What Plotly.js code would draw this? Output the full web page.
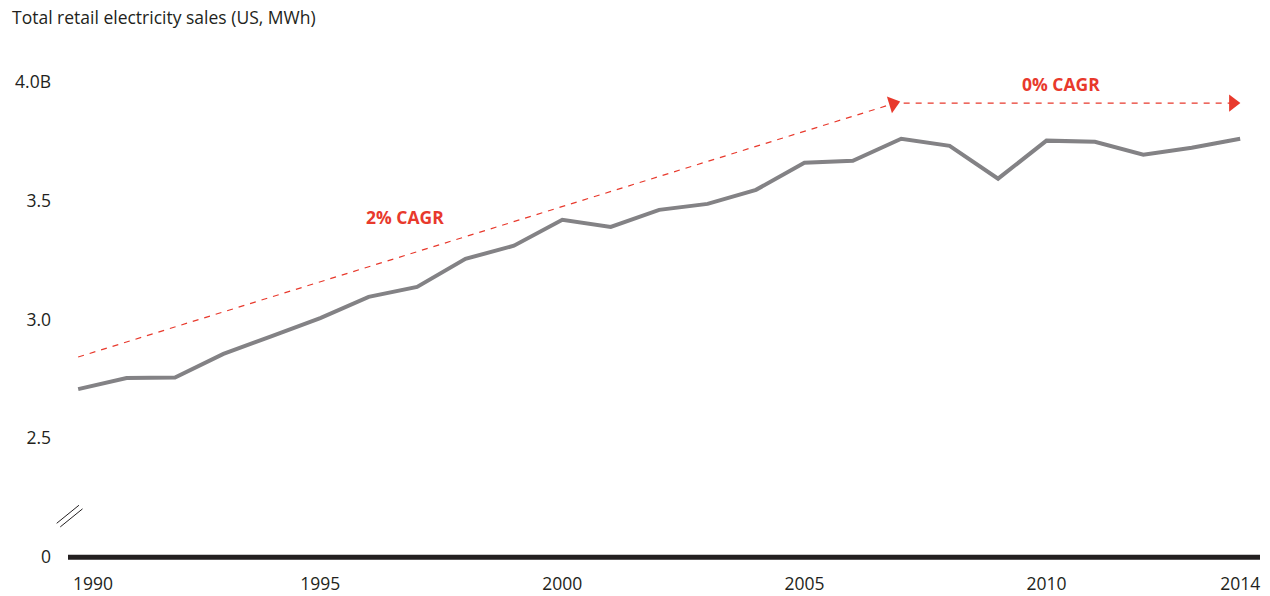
<!DOCTYPE html>
<html>
<head>
<meta charset="utf-8">
<script src="https://cdn.plot.ly/plotly-3.0.1.min.js"></script>
<style>html,body{margin:0;padding:0;background:#fff;}#chart{width:1270px;height:596px;}</style>
</head>
<body>
<div id="chart"></div>
<script>
// Data (billion MWh)
const years = [1990,1991,1992,1993,1994,1995,1996,1997,1998,1999,2000,2001,2002,2003,2004,2005,2006,2007,2008,2009,2010,2011,2012,2013,2014];
const sales = [2.707,2.754,2.756,2.855,2.930,3.006,3.095,3.137,3.255,3.310,3.419,3.389,3.461,3.486,3.545,3.659,3.667,3.760,3.730,3.592,3.752,3.747,3.693,3.722,3.760];
const trendX = [1990, 2006.83];
const trendY = [2.842, 3.907];
const flatX = [2007.05, 2013.85];
const flatY = [3.91, 3.91];
const xTicks = [1990,1995,2000,2005,2010,2014];
const xTickText = ['','1995','2000','2005','2010','2014'];
const yTickVals = [2.0,2.5,3.0,3.5,4.0];
const yTickText = ['0','2.5','3.0','3.5','4.0B'];

const red = '#e8392c';
const ink = '#231f20';
const font = '"Open Sans", Lato, sans-serif';

const traces = [
  {x: trendX, y: trendY, mode:'lines', line:{color:red, width:1.2, dash:'6px,6px'}, hoverinfo:'skip'},
  {x: flatX, y: flatY, mode:'lines', line:{color:red, width:1.2, dash:'6px,6px'}, hoverinfo:'skip'},
  {x: [trendX[1]], y:[trendY[1]], mode:'markers', marker:{symbol:'triangle-right', size:15, color:red, angle:-17}, hoverinfo:'skip'},
  {x: [flatX[1]], y:[flatY[1]], mode:'markers', marker:{symbol:'triangle-right', size:15, color:red}, hoverinfo:'skip'},
  {x: years, y: sales, mode:'lines', line:{color:'#838285', width:4}, hoverinfo:'skip'}
];

const layout = {
  width:1270, height:596,
  margin:{l:68, r:10, t:46, b:34},
  paper_bgcolor:'#fff', plot_bgcolor:'#fff',
  showlegend:false,
  font:{family:font, color:ink, size:17.5},
  xaxis:{range:[1989.79, 2014.41], tickvals:xTicks, ticktext:xTickText, showgrid:false, zeroline:false, showline:false,
         ticks:'outside', ticklen:6, tickcolor:'rgba(0,0,0,0)', tickfont:{size:17.5, color:ink}},
  yaxis:{range:[1.98, 4.15], tickvals:yTickVals, ticktext:yTickText, showgrid:false, zeroline:false, showline:false,
         ticks:'', ticklabelstandoff:16, tickfont:{size:17.5, color:ink}},
  shapes:[
    {type:'line', xref:'paper', yref:'y', x0:0, x1:1, y0:2.0, y1:2.0, line:{color:ink, width:5}},
    {type:'line', xref:'paper', yref:'paper', x0:-0.0095, x1:0.0092, y0:0.075, y1:0.11, line:{color:ink, width:1}},
    {type:'line', xref:'paper', yref:'paper', x0:-0.0065, x1:0.0122, y0:0.068, y1:0.103, line:{color:ink, width:1}}
  ],
  annotations:[
    {text:'Total retail electricity sales (US, MWh)', xref:'paper', yref:'paper', x:-0.0485, y:1.0, xanchor:'left', yanchor:'bottom', showarrow:false,
     font:{size:17.5, color:ink}, yshift:15},
    {text:String(xTicks[0]), x:xTicks[0], y:0, xref:'x', yref:'paper', xanchor:'left', yanchor:'top', xshift:-7, yshift:-7, showarrow:false,
     font:{size:17.5, color:ink}},
    {text:'<b>2% CAGR</b>', x:1996.75, y:3.43, xref:'x', yref:'y', showarrow:false, font:{size:17.5, color:red}},
    {text:'<b>0% CAGR</b>', x:2010.3, y:3.99, xref:'x', yref:'y', showarrow:false, font:{size:17.5, color:red}}
  ]
};

Plotly.newPlot('chart', traces, layout, {displayModeBar:false, staticPlot:true});
</script>
</body>
</html>
